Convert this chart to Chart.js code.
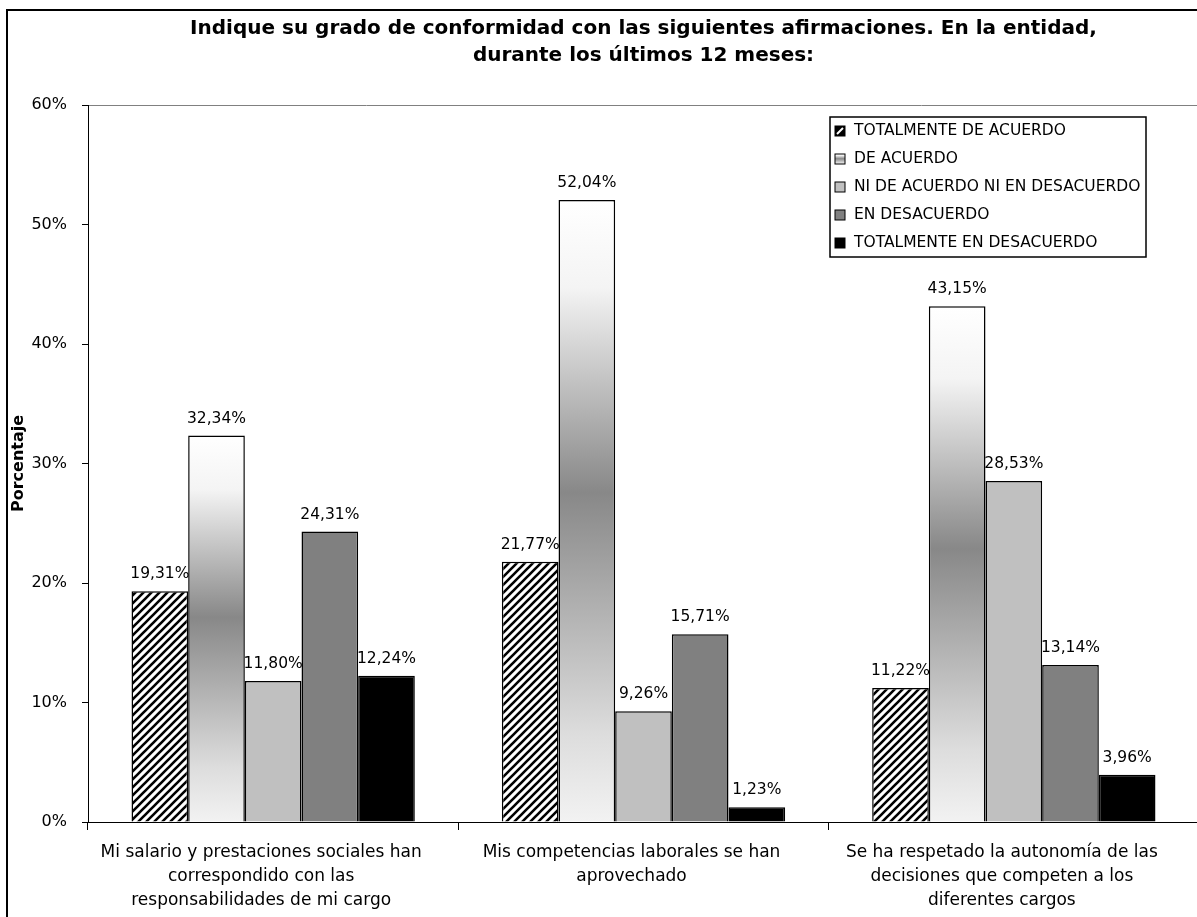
<!DOCTYPE html>
<html>
<head>
<meta charset="utf-8">
<script src="https://cdn.jsdelivr.net/npm/chart.js"></script>
<style>
    html, body { margin: 0; padding: 0; background: #fff; overflow: hidden; }
    #grafico { position: absolute; left: 0; top: 0; }
</style>
</head>
<body>
<canvas id="grafico" width="1284" height="935"></canvas>

<script>
    // categorias (cada una partida en lineas)
    var categorias = [
        ["Mi salario y prestaciones sociales han", "correspondido con las", "responsabilidades de mi cargo"],
        ["Mis competencias laborales se han", "aprovechado"],
        ["Se ha respetado la autonomía de las", "decisiones que competen a los", "diferentes cargos"]
    ];
    var nombresSeries = [
        "TOTALMENTE DE ACUERDO",
        "DE ACUERDO",
        "NI DE ACUERDO NI EN DESACUERDO",
        "EN DESACUERDO",
        "TOTALMENTE EN DESACUERDO"
    ];
    var totalmenteAcuerdo = [19.31, 21.77, 11.22];
    var deAcuerdo = [32.34, 52.04, 43.15];
    var niAcuerdoNiDesacuerdo = [11.80, 9.26, 28.53];
    var enDesacuerdo = [24.31, 15.71, 13.14];
    var totalmenteDesacuerdo = [12.24, 1.23, 3.96];
    var ticksY = [0, 10, 20, 30, 40, 50, 60];

    var fuente = "'DejaVu Sans', sans-serif";

    // rayado diagonal para la primera serie
    function rayado() {
        var c = document.createElement('canvas');
        c.width = 8; c.height = 8;
        var g = c.getContext('2d');
        g.fillStyle = '#fff';
        g.fillRect(0, 0, 8, 8);
        g.strokeStyle = '#000';
        g.lineWidth = 2.6;
        g.beginPath();
        g.moveTo(-1, 9); g.lineTo(9, -1);
        g.moveTo(-2, 2); g.lineTo(2, -2);
        g.moveTo(6, 10); g.lineTo(10, 6);
        g.stroke();
        return document.createElement('canvas').getContext('2d').createPattern(c, 'repeat');
    }
    var patron = rayado();

    function pintaDegradado(g, top, base) {
        var gr = g.createLinearGradient(0, top, 0, base);
        gr.addColorStop(0, '#ffffff');
        gr.addColorStop(0.14, '#f4f4f4');
        gr.addColorStop(0.47, '#888888');
        gr.addColorStop(0.86, '#dddddd');
        gr.addColorStop(1, '#f2f2f2');
        return gr;
    }

    // degradado vertical por barra (blanco - gris - claro)
    function degradado(ctx) {
        var chart = ctx.chart;
        if (!chart.chartArea || ctx.type !== 'data') return '#b0b0b0';
        var y = chart.scales.y;
        return pintaDegradado(chart.ctx, y.getPixelForValue(ctx.raw), y.getPixelForValue(0));
    }

    var colores = [patron, degradado, '#c0c0c0', '#808080', '#000000'];
    var valores = [totalmenteAcuerdo, deAcuerdo, niAcuerdoNiDesacuerdo, enDesacuerdo, totalmenteDesacuerdo];

    var datasets = [];
    for (var i = 0; i < nombresSeries.length; i++) {
        datasets.push({
            label: nombresSeries[i],
            data: valores[i],
            backgroundColor: colores[i],
            borderColor: '#000',
            borderWidth: 1.5,
            categoryPercentage: 0.765,
            barPercentage: 1
        });
    }

    function formato(v) {
        return v.toFixed(2).replace('.', ',') + '%';
    }

    // marco y fondo
    var marco = {
        id: 'marco',
        beforeDraw: function (chart) {
            var g = chart.ctx;
            g.save();
            g.fillStyle = '#fff';
            g.fillRect(0, 0, chart.width, chart.height);
            g.strokeStyle = '#000';
            g.lineWidth = 2;
            g.strokeRect(7, 10, chart.width, chart.height);
            g.restore();
        }
    };

    // etiquetas de valor encima de cada barra
    var etiquetas = {
        id: 'etiquetas',
        afterDatasetsDraw: function (chart) {
            var g = chart.ctx;
            g.save();
            g.font = '15.5px ' + fuente;
            g.fillStyle = '#000';
            g.textAlign = 'center';
            g.textBaseline = 'middle';
            chart.data.datasets.forEach(function (ds, i) {
                chart.getDatasetMeta(i).data.forEach(function (bar, j) {
                    g.fillText(formato(ds.data[j]), bar.x, bar.y - 17);
                });
            });
            g.restore();
        }
    };

    // leyenda con recuadro dentro del area del grafico
    var leyenda = {
        id: 'leyenda',
        afterDraw: function (chart) {
            var g = chart.ctx, a = chart.chartArea;
            var x0 = a.left + 742, y0 = a.top + 12, ancho = 316, alto = 140;
            g.save();
            g.fillStyle = '#fff';
            g.fillRect(x0, y0, ancho, alto);
            g.strokeStyle = '#000';
            g.lineWidth = 1.5;
            g.strokeRect(x0, y0, ancho, alto);
            g.font = '15.5px ' + fuente;
            g.textBaseline = 'middle';
            chart.data.datasets.forEach(function (ds, i) {
                var cy = y0 + 14 + i * 28;
                var sx = x0 + 5, sy = cy - 5;
                var fondo = ds.backgroundColor;
                if (typeof fondo === 'function') fondo = pintaDegradado(g, sy, sy + 10);
                if (i === 0) {
                    // muestra del rayado
                    g.fillStyle = '#000';
                    g.fillRect(sx, sy, 10, 10);
                    g.strokeStyle = '#fff';
                    g.lineWidth = 2;
                    g.beginPath();
                    g.moveTo(sx + 2, sy + 8); g.lineTo(sx + 8, sy + 2);
                    g.stroke();
                } else {
                    g.fillStyle = fondo;
                    g.fillRect(sx, sy, 10, 10);
                }
                g.strokeStyle = '#000';
                g.lineWidth = 1;
                g.strokeRect(sx, sy, 10, 10);
                g.fillStyle = '#000';
                g.fillText(ds.label, x0 + 24, cy);
            });
            g.restore();
        }
    };

    new Chart(document.getElementById('grafico'), {
        type: 'bar',
        data: {
            labels: categorias,
            datasets: datasets
        },
        options: {
            responsive: false,
            animation: false,
            layout: { padding: { left: 9, top: 10, right: 85, bottom: 0 } },
            plugins: {
                legend: { display: false },
                tooltip: { enabled: false },
                title: {
                    display: true,
                    fullSize: false,
                    text: ['Indique su grado de conformidad con las siguientes afirmaciones. En la entidad,',
                        'durante los últimos 12 meses:'],
                    color: '#000',
                    font: { family: fuente, size: 20, weight: 'bold', lineHeight: '27px' },
                    padding: { top: 5, bottom: 36 }
                }
            },
            scales: {
                x: {
                    grid: { offset: true, drawOnChartArea: false, color: '#000', tickLength: 8 },
                    border: { color: '#000', width: 1 },
                    ticks: {
                        color: '#000', maxRotation: 0, autoSkip: false, padding: 11, labelOffset: -12,
                        font: { family: fuente, size: 17, lineHeight: '24px' }
                    },
                    afterFit: function (s) { s.height = 113; }
                },
                y: {
                    min: 0, max: 60,
                    afterBuildTicks: function (s) {
                        s.ticks = ticksY.map(function (v) { return { value: v }; });
                    },
                    ticks: {
                        color: '#000', padding: 15,
                        font: { family: fuente, size: 16 },
                        callback: function (v) { return v + '%'; }
                    },
                    grid: {
                        color: function (c) { return c.tick && c.tick.value === 60 ? '#808080' : 'rgba(0,0,0,0)'; },
                        tickColor: '#000', tickLength: 6
                    },
                    border: { color: '#000', width: 1 },
                    title: {
                        display: true, text: 'Porcentaje', color: '#000', padding: 0,
                        font: { family: fuente, size: 16, weight: 'bold' }
                    },
                    afterFit: function (s) { s.width = 79; }
                }
            }
        },
        plugins: [marco, etiquetas, leyenda]
    });
</script>
</body>
</html>
